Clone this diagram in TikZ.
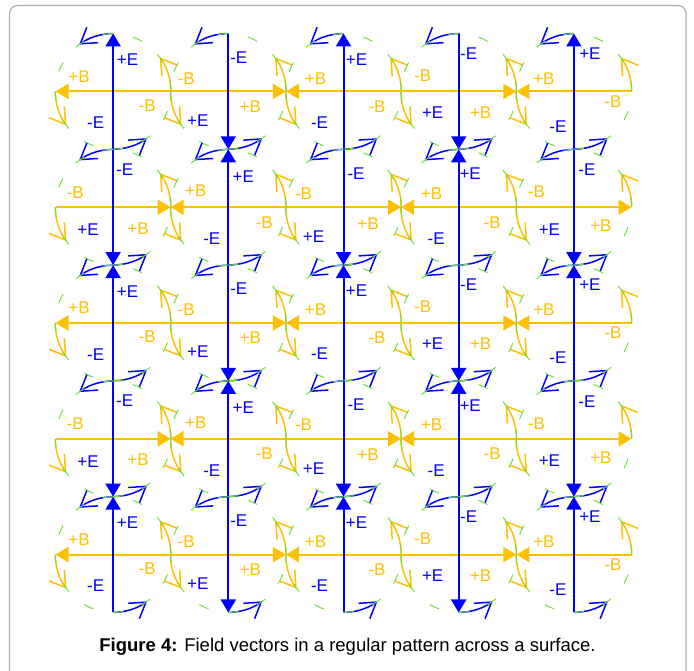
\documentclass[tikz,border=0pt]{standalone}
\usepackage{fontspec}
\setmainfont{Liberation Sans}
\usetikzlibrary{arrows.meta}
\definecolor{eblue}{RGB}{0,0,255}
\definecolor{borange}{RGB}{255,192,0}
\definecolor{dgreen}{RGB}{110,225,60}
\definecolor{framegray}{RGB}{175,175,175}
\begin{document}
\begin{tikzpicture}[x=1pt,y=1pt,
  efield/.style={draw=eblue,line width=2pt,-{Triangle[length=13pt,width=15pt]}},
  bfield/.style={draw=borange,line width=2pt,-{Triangle[length=13pt,width=15pt]}},
  ecurl/.style={draw=eblue,line width=1.5pt,-{Straight Barb[length=15pt,width=19pt]}},
  bcurl/.style={draw=borange,line width=1.5pt,-{Straight Barb[length=15pt,width=19pt]}},
  ring/.style={draw=dgreen,line width=1pt},
  lbe/.style={font=\fontsize{17}{20}\selectfont,inner sep=0pt,text=eblue},
  lbb/.style={font=\fontsize{17}{20}\selectfont,inner sep=0pt,text=borange}]
\useasboundingbox (0,0) rectangle (694,671);
\fill[white] (0,0) rectangle (694,671);
\draw[framegray,line width=1.2pt,rounded corners=8pt] (9.5,-4) -- (9.5,665.5) -- (686,665.5) -- (686,-4);
% grid points
\foreach \i in {0,...,10}{
  \foreach \j in {0,...,10}{
    \coordinate (g\i-\j) at ({55.5+57.6*\i},{637.5-57.9*\j});
  }
}
% straight B field arrows
\foreach \j in {1,5,9}{\foreach \a/\b in {2/0,2/4,6/4,6/8,10/8}{\draw[bfield] (g\a-\j) -- (g\b-\j);}}
\foreach \j in {3,7}{\foreach \a/\b in {0/2,4/2,4/6,8/6,8/10}{\draw[bfield] (g\a-\j) -- (g\b-\j);}}
% straight E field arrows
\foreach \i in {1,5,9}{\foreach \a/\b in {2/0,2/4,6/4,6/8,10/8}{\draw[efield] (g\i-\a) -- (g\i-\b);}}
\foreach \i in {3,7}{\foreach \a/\b in {0/2,4/2,4/6,8/6,8/10}{\draw[efield] (g\i-\a) -- (g\i-\b);}}
% curl arrows and dashed rings
\foreach \i in {1,3,5,7,9}{\foreach \j in {1,3,5,7,9}{
  \draw[ecurl] (g\i-\j) ++(90:57.8pt) arc[start angle=90,end angle=126,radius=57.8pt];
  \draw[ecurl] (g\i-\j) ++(270:57.8pt) arc[start angle=270,end angle=306,radius=57.8pt];
  \draw[bcurl] (g\i-\j) ++(0:57.8pt) arc[start angle=0,end angle=36,radius=57.8pt];
  \draw[bcurl] (g\i-\j) ++(180:57.8pt) arc[start angle=180,end angle=216,radius=57.8pt];
  \foreach \k in {0,...,11}{
    \draw[ring] (g\i-\j) ++({30*\k}:57.8pt) arc[start angle={30*\k},end angle={30*\k+10},radius=57.8pt];
  }
}}
% labels (x, y from top, text, colour)
\foreach \x/\y/\t/\k [count=\n] in {
127.6/59.9/+E/e, 79.1/76.4/+B/b, 147.1/105.4/-B/b, 95.6/122.9/-E/e,
238.8/57.4/-E/e, 186.3/78.4/-B/b, 250.3/106.4/+B/b, 197.8/120.4/+E/e,
356.5/59.4/+E/e, 315.5/78.4/+B/b, 377/106.4/-B/b, 319.5/122.4/-E/e,
468.7/53.4/-E/e, 422.7/75.4/-B/b, 480.7/112.4/+B/b, 432.7/112.4/+E/e,
589.9/53.4/+E/e, 543.9/78.4/+B/b, 612.9/101.4/-B/b, 557.9/126.4/-E/e,
124.6/169.2/-E/e, 75.1/192.2/-B/b, 138.1/228.2/+B/b, 88.1/229.7/+E/e,
243.3/176.2/+E/e, 195.8/190.7/+B/b, 264.3/222.2/-B/b, 211.8/238.7/-E/e,
356/173.2/-E/e, 303.5/193.2/-B/b, 368/223.2/+B/b, 313.5/236.7/+E/e,
470.2/173.7/+E/e, 431.7/193.2/+B/b, 492.2/222.2/-B/b, 436.2/238.7/-E/e,
586.9/169.7/-E/e, 536.4/191.7/-B/b, 600.9/225.7/+B/b, 549.4/229.2/+E/e,
127.6/291.5/+E/e, 79.1/308/+B/b, 147.1/337/-B/b, 95.6/354.5/-E/e,
238.8/289/-E/e, 186.3/310/-B/b, 250.3/338/+B/b, 197.8/352/+E/e,
356.5/291/+E/e, 315.5/310/+B/b, 377/338/-B/b, 319.5/354/-E/e,
468.7/285/-E/e, 422.7/307/-B/b, 480.7/344/+B/b, 432.7/344/+E/e,
589.9/285/+E/e, 543.9/310/+B/b, 612.9/333/-B/b, 557.9/358/-E/e,
124.6/400.8/-E/e, 75.1/423.8/-B/b, 138.1/459.8/+B/b, 88.1/461.3/+E/e,
243.3/407.8/+E/e, 195.8/422.3/+B/b, 264.3/453.8/-B/b, 211.8/470.3/-E/e,
356/404.8/-E/e, 303.5/424.8/-B/b, 368/454.8/+B/b, 313.5/468.3/+E/e,
470.2/405.3/+E/e, 431.7/424.8/+B/b, 492.2/453.8/-B/b, 436.2/470.3/-E/e,
586.9/401.3/-E/e, 536.4/423.3/-B/b, 600.9/457.3/+B/b, 549.4/460.8/+E/e,
127.6/523.1/+E/e, 79.1/539.6/+B/b, 147.1/568.6/-B/b, 95.6/586.1/-E/e,
238.8/520.6/-E/e, 186.3/541.6/-B/b, 250.3/569.6/+B/b, 197.8/583.6/+E/e,
356.5/522.6/+E/e, 315.5/541.6/+B/b, 377/569.6/-B/b, 319.5/585.6/-E/e,
468.7/516.6/-E/e, 422.7/538.6/-B/b, 480.7/575.6/+B/b, 432.7/575.6/+E/e,
589.9/516.6/+E/e, 543.9/541.6/+B/b, 612.9/564.6/-B/b, 557.9/589.6/-E/e}{
  \node[lb\k] (L\n) at (\x,671-\y) {\t};
}
% caption
\node[anchor=base,font=\fontsize{18.5}{22}\selectfont,inner sep=0pt] (cap) at (347.5,19.5)
  {\textbf{Figure 4:} Field vectors in a regular pattern across a surface.};
\end{tikzpicture}
\end{document}
